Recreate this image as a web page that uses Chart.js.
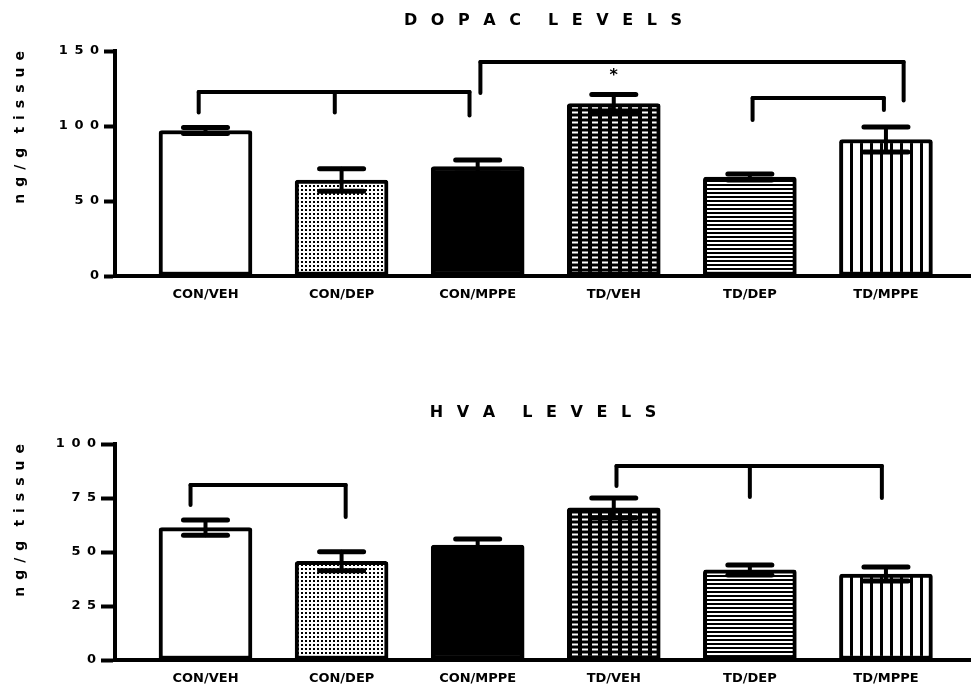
<!DOCTYPE html>
<html>
<head>
<meta charset="utf-8">
<script src="https://cdn.jsdelivr.net/npm/chart.js@4.4.1/dist/chart.umd.min.js"></script>
<style>
  html, body { margin: 0; padding: 0; background: #fff; }
  #wrap { position: relative; width: 971px; height: 694px; overflow: hidden; }
  canvas { position: absolute; left: 0; }
  #dopac { top: 0; }
  #hva { top: 347px; }
</style>
</head>
<body>
<div id="wrap">
  <canvas id="dopac" width="971" height="347"></canvas>
  <canvas id="hva" width="971" height="347"></canvas>
</div>
<script>
// Treatment groups (control / tardive dyskinesia x vehicle / DEP / MPPE)
const groups = ['CON/VEH', 'CON/DEP', 'CON/MPPE', 'TD/VEH', 'TD/DEP', 'TD/MPPE'];

// DOPAC, ng/g tissue: mean and SEM per group
const dopacMean = [97, 64, 73, 115, 66, 91];
const dopacSem  = [2, 7.5, 4.3, 6, 2, 8.3];
const dopacTicks = [0, 50, 100, 150];

// HVA, ng/g tissue: mean and SEM per group
const hvaMean = [61.3, 45.7, 53.2, 70.4, 41.7, 39.8];
const hvaSem  = [3.5, 4.4, 2.8, 4.6, 2.3, 3.2];
const hvaTicks = [0, 25, 50, 75, 100];

// Significance brackets: x on the group axis (1 = first group), bar height and leg ends in ng/g
const dopacBrackets = [
  { x: [0.95, 1.95, 2.94], top: 122.7, ends: [109, 109, 107] },
  { x: [3.02, 6.13], top: 142.7, ends: [122, 117] },
  { x: [5.02, 5.985], top: 118.7, ends: [104, 110.7] }
];
const dopacStars = [{ group: 4, at: 136 }];

const hvaBrackets = [
  { x: [0.89, 2.03], top: 81, ends: [71.8, 66.2] },
  { x: [4.02, 5.0, 5.97], top: 89.8, ends: [80.6, 75.5, 75] }
];
const hvaStars = [];

// ---- fill patterns for the six groups ----
function makePattern(w, h, paint) {
  const c = document.createElement('canvas');
  c.width = w; c.height = h;
  const g = c.getContext('2d');
  paint(g, w, h);
  return g.createPattern(c, 'repeat');
}
const fills = [
  '#ffffff',
  makePattern(4, 4, (g) => { g.fillStyle = '#fff'; g.fillRect(0, 0, 4, 4); g.fillStyle = '#000'; g.fillRect(1, 1, 2, 2); }),
  '#000000',
  makePattern(10, 5, (g) => { g.fillStyle = '#000'; g.fillRect(0, 0, 10, 5); g.fillStyle = '#fff'; g.fillRect(2, 1.5, 6, 2); }),
  makePattern(4, 4, (g) => { g.fillStyle = '#fff'; g.fillRect(0, 0, 4, 4); g.fillStyle = '#000'; g.fillRect(0, 0, 4, 2); }),
  makePattern(10, 4, (g) => { g.fillStyle = '#fff'; g.fillRect(0, 0, 10, 4); g.fillStyle = '#000'; g.fillRect(0, 0, 3, 4); })
];

// widely spaced lettering
function spread(text, gap) {
  return text.split(' ').map(w => Array.from(w).join(gap)).join(gap + gap);
}

Chart.defaults.font.family = "'DejaVu Sans', 'Liberation Sans', sans-serif";
Chart.defaults.color = '#000';

function seg(ctx, x1, y1, x2, y2) {
  ctx.beginPath(); ctx.moveTo(x1, y1); ctx.lineTo(x2, y2); ctx.stroke();
}

// SEM whiskers, brackets and asterisks on top of the bars
function overlayPlugin(means, sems, brackets, stars) {
  return {
    id: 'overlay',
    afterDatasetsDraw(chart) {
      const { ctx, scales: { x, y } } = chart;
      ctx.save();
      ctx.strokeStyle = '#000';
      ctx.fillStyle = '#000';
      ctx.lineCap = 'round';
      ctx.lineJoin = 'round';
      means.forEach((m, i) => {
        const px = x.getPixelForValue(i + 1);
        const hi = y.getPixelForValue(m + sems[i]);
        const lo = y.getPixelForValue(m - sems[i]);
        ctx.lineWidth = 4;
        seg(ctx, px, hi, px, lo);
        ctx.lineWidth = 5;
        seg(ctx, px - 22, hi, px + 22, hi);
        seg(ctx, px - 22, lo, px + 22, lo);
      });
      ctx.lineWidth = 4;
      brackets.forEach(b => {
        const top = y.getPixelForValue(b.top);
        const xs = b.x.map(v => x.getPixelForValue(v));
        seg(ctx, xs[0], top, xs[xs.length - 1], top);
        xs.forEach((px, k) => seg(ctx, px, top, px, y.getPixelForValue(b.ends[k])));
      });
      ctx.font = 'bold 16px "DejaVu Sans", sans-serif';
      ctx.textAlign = 'center';
      ctx.textBaseline = 'middle';
      stars.forEach(s => {
        ctx.fillText('*', x.getPixelForValue(s.group), y.getPixelForValue(s.at) + 4);
      });
      ctx.restore();
    }
  };
}

function buildChart(id, cfg) {
  const canvas = document.getElementById(id);
  return new Chart(canvas, {
    type: 'bar',
    data: {
      datasets: [{
        data: cfg.means.map((v, i) => ({ x: i + 1, y: v })),
        backgroundColor: fills,
        borderColor: '#000',
        borderWidth: 4,
        borderSkipped: false,
        borderRadius: { topLeft: 3, topRight: 3, bottomLeft: 0, bottomRight: 0 },
        barThickness: 93
      }]
    },
    options: {
      responsive: false,
      devicePixelRatio: 1,
      animation: false,
      events: [],
      layout: { padding: 0 },
      plugins: {
        legend: { display: false },
        tooltip: { enabled: false },
        title: {
          display: true,
          text: spread(cfg.title, ' \u2002'),
          fullSize: false,
          color: '#000',
          font: { size: 16, weight: 'bold' },
          padding: cfg.titlePad
        }
      },
      scales: {
        x: {
          type: 'linear',
          offset: false,
          bounds: 'data',
          min: 0.335,
          max: 6.625,
          afterBuildTicks: (s) => { s.ticks = groups.map((g, i) => ({ value: i + 1 })); },
          afterFit: (s) => { s.height = cfg.axisHeight; },
          grid: { display: true, offset: false, drawOnChartArea: false, drawTicks: false },
          border: { display: true, color: '#000', width: 4 },
          ticks: {
            autoSkip: false,
            maxRotation: 0,
            padding: 11,
            color: '#000',
            font: { size: 13, weight: 'bold' },
            callback: (v) => groups[Math.round(v) - 1] || ''
          }
        },
        y: {
          min: 0,
          max: cfg.ticks[cfg.ticks.length - 1],
          afterBuildTicks: (s) => { s.ticks = cfg.ticks.map(v => ({ value: v })); },
          afterFit: (s) => { s.width = 115; },
          grid: {
            display: true, drawOnChartArea: false, drawTicks: true,
            tickLength: cfg.tickLength, tickWidth: 4, tickColor: '#000', color: '#000'
          },
          border: { display: true, color: '#000', width: 4 },
          ticks: {
            padding: 5,
            color: '#000',
            font: { size: 13, weight: 'bold' },
            callback: (v) => spread(String(v), '\u2002')
          },
          title: {
            display: true,
            text: spread('ng/g tissue', '\u2002'),
            align: 'end',
            color: '#000',
            font: { size: 14, weight: 'bold' },
            padding: { top: 12, bottom: 0 }
          }
        }
      }
    },
    plugins: [overlayPlugin(cfg.means, cfg.sem, cfg.brackets, cfg.stars)]
  });
}

buildChart('dopac', {
  title: 'DOPAC LEVELS',
  means: dopacMean, sem: dopacSem, ticks: dopacTicks,
  brackets: dopacBrackets, stars: dopacStars,
  titlePad: { top: 11, bottom: 20.8 },
  axisHeight: 71,
  tickLength: 11
});

buildChart('hva', {
  title: 'HVA LEVELS',
  means: hvaMean, sem: hvaSem, ticks: hvaTicks,
  brackets: hvaBrackets, stars: hvaStars,
  titlePad: { top: 56, bottom: 21.8 },
  axisHeight: 34,
  tickLength: 14
});
</script>
</body>
</html>
